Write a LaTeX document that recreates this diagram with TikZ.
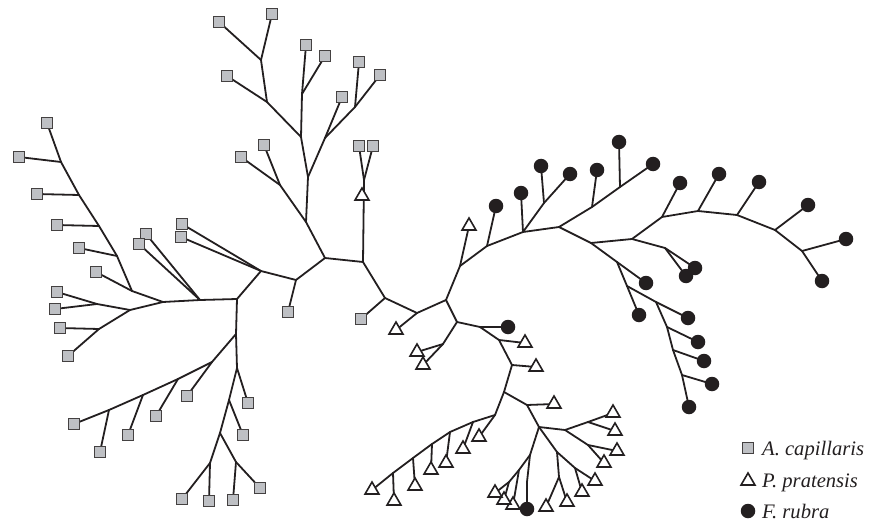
\documentclass[tikz,border=0pt]{standalone}
\usepackage{fontspec}
\setmainfont{Liberation Serif}
\usetikzlibrary{shapes.geometric,backgrounds}
\definecolor{ink}{RGB}{35,31,32}
\definecolor{sqfill}{RGB}{190,192,196}
\begin{document}
\begin{tikzpicture}[x=1pt,y=-1pt,
  edge/.style={draw=ink,line width=1.8pt,line cap=round,line join=round},
  sq/.style={rectangle,draw=ink!85,line width=1.7pt,fill=sqfill,minimum size=11pt,inner sep=0pt},
  tri/.style={regular polygon,regular polygon sides=3,draw=ink,line width=1.6pt,fill=white,minimum size=16pt,inner sep=0pt},
  circ/.style={circle,fill=ink,minimum size=14.5pt,inner sep=0pt},
  lab/.style={anchor=base west,inner sep=0pt,font=\fontsize{20.6}{24}\selectfont\itshape,text=ink}]
\useasboundingbox (0,0) rectangle (870,524);
% internal nodes
\foreach \n/\x/\y in {A1/61/162,A2/79/195,A3/99/226,A4/117/256,A5/132/291,A6/163/302,
  B1/130/310,B2/97/304,B3/99/329,A7/200/300,A8/237/299,C1/261/271,C2/296/280,C3/325/258,
  C4/306/222,X1/280/185,U4/308/177,W1/325/138,W2/355/107,U3/301/137,V1/302/94,U2/267/102,U1/261/60,
  C5/363/262,E1/364/180,C6/385/298,C7/417/313,C8/446/300,F1/460/266,P1/487/246,P2/523/232,
  P3/544/203,P4/559/227,P5/592/207,P6/620/187,Q1/591/243,R1/632/239,S1/665/248,R2/662/217,
  R3/698/211,R4/737/215,R5/775/230,R6/802/251,Q2/617/262,Q3/627/286,Q4/656/302,Q5/667/327,
  Q6/673/350,Q7/682/375,G1/457/322,G2/443/344,G3/480/327,G4/499/340,G5/512/365,G6/504/392,
  H1/527/405,H2/539/427,J1/565/430,J2/588/422,J3/588/445,K1/557/452,K2/575/468,K3/559/477,
  L1/530/455,M1/527/482,L2/519/470,L3/509/482,I1/495/415,I2/473/422,I3/450/432,I4/432/444,
  I5/413/458,I6/393/473,D1/236/334,D2/212/362,D3/178/379,D4/143/395,D5/109/410,E2/237/368,
  E3/229/400,E4/220/433,E5/210/463,E6/236/462}
  {\coordinate (\n) at (\x,\y);}
% leaves: A. capillaris
\foreach \n/\x/\y in {l1/47/123,l2/19/157,l3/37/194,l4/57/225,l5/79/248,l6/96/272,l7/57/292,
  l8/55/309,l9/60/328,l10/68/356,l11/146/234,l12/139/244,l13/182/224,l14/181/237,l15/288/312,
  l16/241/157,l17/264/145,l18/342/97,l19/359/62,l20/380/75,l21/306/45,l22/325/56,l23/227/76,
  l24/219/22,l25/272/14,l27/359/146,l28/373/146,l29/361/319,l79/187/396,l80/156/416,
  l81/128/435,l82/100/452,l83/74/424,l84/248/403,l85/243/435,l86/182/499,l87/209/501,
  l88/233/500,l89/260/488}
  {\node[sq] (\n) at (\x,\y) {};}
% leaves: P. pratensis
\foreach \n/\x/\y in {l26/362/196,l30/396/330,l31/469/226,l54/417/352,l55/423/365,l57/525/343,
  l58/536/367,l59/554/404,l60/613/413,l61/615/431,l62/617/451,l63/604/463,l64/595/481,
  l65/582/492,l66/567/502,l67/546/507,l69/513/505,l70/504/500,l71/495/493,l72/479/437,
  l73/463/449,l74/446/463,l75/431/470,l76/415/486,l77/394/501,l78/372/490}
  {\node[tri] (\n) at (\x,\y) {};}
% leaves: F. rubra
\foreach \n/\x/\y in {l32/496/206,l33/521/193,l34/541/166,l35/570/174,l36/597/170,l37/619/142,
  l38/653/164,l39/695/268,l40/686/276,l41/680/183,l42/719/174,l43/759/182,l44/808/205,
  l45/846/239,l46/822/281,l47/646/283,l48/639/315,l49/688/318,l50/698/342,l51/704/361,
  l52/712/384,l53/689/407,l56/508/327,l68/527/509}
  {\node[circ] (\n) at (\x,\y) {};}
\begin{scope}[on background layer]
\foreach \a/\b in {A1/l1,A1/l2,A1/A2,A2/l3,A2/A3,A3/l4,A3/A4,A4/l5,A4/A5,A5/l6,A5/A6,A6/B1,
  B1/B2,B2/l7,B2/l8,B1/B3,B3/l9,B3/l10,A6/A7,A7/l11,A7/l12,A7/A8,A8/C1,C1/l13,C1/l14,C1/C2,
  C2/l15,C2/C3,C3/C4,C4/X1,X1/l16,X1/l17,C4/U4,U4/W1,W1/l18,W1/W2,W2/l19,W2/l20,U4/U3,U3/V1,
  V1/l21,V1/l22,U3/U2,U2/l23,U2/U1,U1/l24,U1/l25,C3/C5,C5/E1,E1/l27,E1/l28,C5/C6,C6/l29,
  C6/C7,C7/l30,C7/C8,C8/F1,F1/l31,F1/P1,P1/l32,P1/P2,P2/l33,P2/P3,P3/l34,P3/l35,P2/P4,
  P4/P5,P5/l36,P5/P6,P6/l37,P6/l38,P4/Q1,Q1/R1,R1/S1,S1/l39,S1/l40,R1/R2,R2/l41,R2/R3,
  R3/l42,R3/R4,R4/l43,R4/R5,R5/l44,R5/R6,R6/l45,R6/l46,Q1/Q2,Q2/l47,Q2/Q3,Q3/l48,Q3/Q4,
  Q4/l49,Q4/Q5,Q5/l50,Q5/Q6,Q6/l51,Q6/Q7,Q7/l52,Q7/l53,C8/G1,G1/G2,G2/l54,G2/l55,G1/G3,
  G3/l56,G3/G4,G4/l57,G4/G5,G5/l58,G5/G6,G6/H1,H1/l59,H1/H2,H2/J1,J1/J2,J2/l60,J2/l61,
  J1/J3,J3/l62,J3/l63,H2/K1,K1/K2,K2/l64,K2/l65,K1/K3,K3/l66,K3/l67,H2/L1,L1/M1,M1/l68,
  L1/L2,L2/l69,L2/L3,L3/l70,L3/l71,G6/I1,I1/l72,I1/I2,I2/l73,I2/I3,I3/l74,I3/I4,I4/l75,
  I4/I5,I5/l76,I5/I6,I6/l77,I6/l78,A8/D1,D1/D2,D2/l79,D2/D3,D3/l80,D3/D4,D4/l81,D4/D5,
  D5/l82,D5/l83,D1/E2,E2/l84,E2/E3,E3/l85,E3/E4,E4/E5,E5/l86,E5/l87,E4/E6,E6/l88,E6/l89}
  {\draw[edge] (\a.center) -- (\b.center);}
\end{scope}
% legend
\node[sq] (ks) at (748,448) {};
\node[tri] (kt) at (748,481) {};
\node[circ] (kc) at (748,511) {};
\node[lab] (ts) at (762,455) {A. capillaris};
\node[lab] (tt) at (762,487) {P. pratensis};
\node[lab] (tc) at (762,518) {F. rubra};
\end{tikzpicture}
\end{document}
